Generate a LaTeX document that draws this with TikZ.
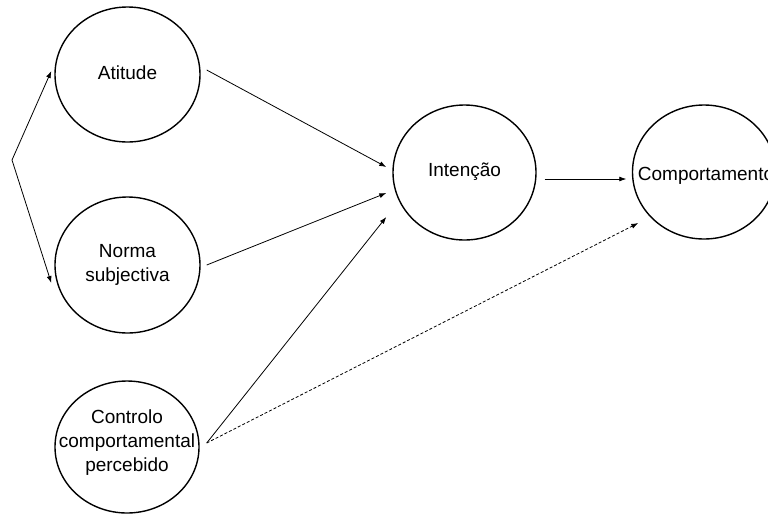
\documentclass[tikz,border=0pt]{standalone}
\usepackage{fontspec}
\setmainfont{Liberation Sans}
\usetikzlibrary{arrows.meta,shapes.geometric}
\begin{document}
\begin{tikzpicture}[x=1pt,y=-1pt,
  oval/.style={draw,ellipse,line width=1.4pt,inner sep=0pt},
  txt/.style={align=center,inner sep=0pt,font=\fontsize{19}{24}\selectfont},
  conn/.style={line width=0.8pt,-{Latex[length=7pt,width=5pt]}},
  dconn/.style={conn,dash pattern=on 3pt off 2pt}]
\clip (0,0) rectangle (768,515);
\fill[white] (0,0) rectangle (768,515);
\node[oval,minimum width=145pt,minimum height=135pt] (a) at (127.5,74.5) {};
\node[oval,minimum width=145pt,minimum height=136pt] (n) at (127.5,265) {};
\node[oval,minimum width=144pt,minimum height=132pt] (c) at (127,447) {};
\node[oval,minimum width=143pt,minimum height=135pt] (i) at (464.5,172.5) {};
\node[oval,minimum width=143pt,minimum height=134pt] (k) at (704,172) {};
\node[txt] (at) at ([yshift=2]a) {Atitude};
\node[txt] (nt) at (n) {Norma\\subjectiva};
\node[txt] (ct) at ([yshift=4]c) {Controlo\\comportamental\\percebido};
\node[txt] (it) at ([yshift=1]i) {Intenção};
\node[txt] (kt) at ([shift={(2,4)}]k) {Comportamento};
\coordinate (v) at (12,160);
\draw[conn] (v) -- ([shift={(-3,-3.5)}]a.west);
\draw[conn] (v) -- ([shift={(-3,18)}]n.west);
\draw[conn] ([shift={(6,-4.5)}]a.east) -- ([shift={(-6,-5.5)}]i.west);
\draw[conn] ([shift={(6,0)}]n.east) -- ([shift={(-6,20.5)}]i.west);
\draw[conn] ([shift={(7,-4)}]c.east) -- ([shift={(-6,44.5)}]i.west);
\draw[dconn] ([shift={(7,-4)}]c.east) -- ([shift={(6.5,51)}]k.west);
\draw[conn] ([shift={(8,6.5)}]i.east) -- ([shift={(-5.5,7)}]k.west);
\end{tikzpicture}
\end{document}
